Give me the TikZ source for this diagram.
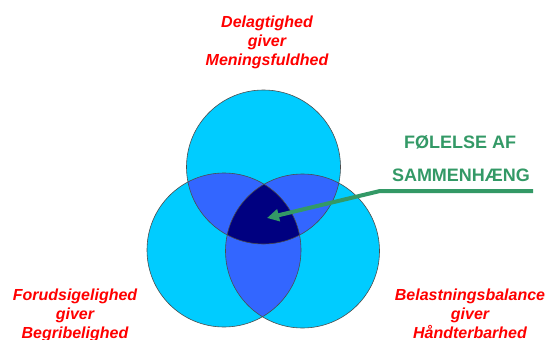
\documentclass[tikz,border=0pt]{standalone}
\usepackage{fontspec}
\setmainfont{Liberation Sans}
\usetikzlibrary{arrows.meta}
\definecolor{cyanfill}{HTML}{00CCFF}
\definecolor{midblue}{HTML}{3366FF}
\definecolor{navy}{HTML}{000080}
\definecolor{grn}{HTML}{339966}
\definecolor{redtxt}{HTML}{FF0000}
\tikzset{
  lbl/.style={text=redtxt, align=center, font=\fontsize{16}{19}\selectfont\bfseries\itshape, inner sep=0pt},
  gtxt/.style={text=grn, font=\fontsize{18}{22}\selectfont\bfseries, inner sep=0pt},
  ring/.style={draw=black!70, line width=0.6pt},
  conn/.style={draw=grn, line width=4pt, -{Triangle[length=12pt,width=12pt]}}
}
\begin{document}
\begin{tikzpicture}[x=1pt,y=-1pt]
\useasboundingbox (0,0) rectangle (547,340);
\def\R{77pt}
\coordinate (ct) at (263.5,167);
\coordinate (cl) at (224,250);
\coordinate (cr) at (302.5,251);
% base fills
\fill[cyanfill] (ct) circle[radius=\R];
\fill[cyanfill] (cl) circle[radius=\R];
\fill[cyanfill] (cr) circle[radius=\R];
% pairwise intersections
\begin{scope}
  \clip (ct) circle[radius=\R];
  \fill[midblue] (cl) circle[radius=\R];
  \fill[midblue] (cr) circle[radius=\R];
\end{scope}
\begin{scope}
  \clip (cl) circle[radius=\R];
  \fill[midblue] (cr) circle[radius=\R];
\end{scope}
% triple
\begin{scope}
  \clip (ct) circle[radius=\R];
  \clip (cl) circle[radius=\R];
  \fill[navy] (cr) circle[radius=\R];
\end{scope}
% outlines
\draw[ring] (ct) circle[radius=\R];
\draw[ring] (cl) circle[radius=\R];
\draw[ring] (cr) circle[radius=\R];
% labels
\node[lbl] (top) at (267,42) {Delagtighed\\giver\\Meningsfuldhed};
\node[lbl, anchor=north] (left) at (75,289) {Forudsigelighed\\giver\\Begribelighed};
\node[lbl, anchor=north] (right) at (470,289) {Belastningsbalance\\giver\\Håndterbarhed};
\node[gtxt] (g1) at (460,142) {FØLELSE AF};
\node[gtxt] (g2) at (461,175) {SAMMENHÆNG};
% arrow
\coordinate (aend) at (533,191);
\coordinate (abend) at (380,191);
\coordinate (atip) at (267,218);
\draw[conn] (aend) -- (abend) -- (atip);
\end{tikzpicture}
\end{document}
